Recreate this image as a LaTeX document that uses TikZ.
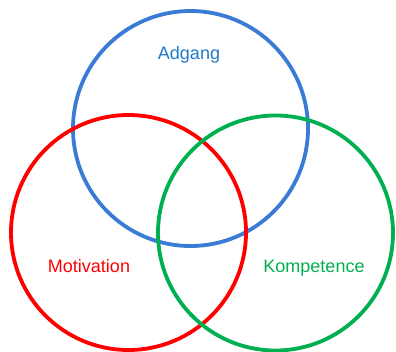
\documentclass[tikz,border=0pt]{standalone}
\usepackage{fontspec}
\setmainfont{Liberation Sans}
\definecolor{cblue}{HTML}{3A7BD5}
\definecolor{tblue}{HTML}{1F7AC8}
\definecolor{cred}{HTML}{FF0000}
\definecolor{cgreen}{HTML}{00B050}
\begin{document}
\begin{tikzpicture}[x=1pt,y=-1pt,
  ring/.style={line width=3.8pt},
  lbl/.style={font=\fontsize{18}{20}\selectfont, inner sep=0pt, anchor=base}]
\useasboundingbox (0,0) rectangle (396,351);
\draw[ring,cblue] (190.5,128.5) circle[radius=117.5];
\draw[ring,cred] (128.5,232.5) circle[radius=117.5];
\draw[ring,cgreen] (275.5,233) circle[radius=117.5];
\node[lbl,text=tblue] (adgang) at (189,59.5) {Adgang};
\node[lbl,text=cred] (motivation) at (89,272) {Motivation};
\node[lbl,text=cgreen] (kompetence) at (314,272) {Kompetence};
\end{tikzpicture}
\end{document}
